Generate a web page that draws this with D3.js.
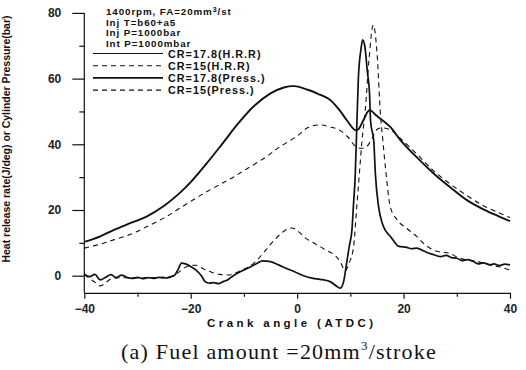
<!DOCTYPE html>
<html><head><meta charset="utf-8">
<script src="https://cdn.jsdelivr.net/npm/d3@7"></script>
<style>body{margin:0;background:#fff}svg{display:block}</style>
</head><body>
<svg id="c" width="526" height="370"></svg>
<script>
// ---- data ----
const xTicks = [-40,-20,0,20,40];
const yTicks = [0,20,40,60,80];
const infoLines = ["1400rpm, FA=20mm", "Inj T=b60+a5", "Inj P=1000bar", "Int P=1000mbar"];
const seriesNames = ["CR=17.8(H.R.R)", "CR=15(H.R.R)", "CR=17.8(Press.)", "CR=15(Press.)"];

const press178X = [-40,-37,-34.5,-31,-28.3,-25,-22,-20,-17,-14,-11,-8,-5,-2.5,-0.5,2,4,6.2,8,9.3,10.9,11.5,12.5,13.6,15,17.5,19.4,22.5,25.6,28.7,31.9,35,38,40];
const press178Y = [10.3,12,13.9,16.2,18,21.3,25.3,28.5,34.2,40.3,46.5,51.8,55.5,57.3,57.7,56.6,55.3,53.5,50.3,47.4,44.3,44.6,47.5,50.4,48.6,45.3,41.3,36,31.2,27,23,20.2,18,16.6];

const press15X = [-40,-37,-34.5,-31,-28.3,-25,-22,-18,-14.5,-12,-9.5,-6,-3.2,0,2.1,4.3,6,8,9.5,11,12,13,14,15,16,17.5,19.4,22.5,25.6,28.7,31.9,35,38,40];
const press15Y = [8.4,9.6,10.9,12.8,14.9,17.6,20.6,24.6,27.8,30,32.5,36,39.3,42.5,45.2,45.9,45.4,44.3,42.3,39.3,38.8,39.2,41.5,44.5,45,44.4,41.8,37,32,28,24.4,21.3,19.1,17.7];

const hrr178X = [-40,-39,-38,-37,-36,-35,-34,-33,-32,-31,-30,-29,-28,-27,-26,-25,-24,-23,-22.5,-21.7,-21,-20.1,-19,-18,-17.3,-16.5,-15.7,-14.8,-13.9,-13,-12,-10.7,-9,-7.5,-6.5,-5,-3.5,-2,-0.5,1.2,3,4.3,6.2,7.5,8.1,8.7,9.3,9.8,10.3,10.6,10.9,11.2,11.5,12,12.3,12.7,13.2,13.6,13.8,14.4,14.7,15.3,16,16.5,17.5,18.2,19,20.6,21.5,22.5,23.7,24.5,25.5,26.9,28,29,30,31,32,33.1,34,35,36.3,37,38,39,40];
const hrr178Y = [0.5,-0.3,0.4,-1.3,-0.5,0.3,-0.6,0.2,-0.5,-0.8,-0.5,-0.9,-0.6,-0.8,-0.5,-0.7,-0.5,0.2,1.5,3.8,3.6,2.9,1.7,0,-1.8,-2.3,-2.1,-2.4,-1.8,-1.2,0,1.2,2.5,3.8,4.5,4.3,3.3,2.2,1.2,0,-0.8,-1.1,-1.8,-3.3,-3.8,-2,3.8,9,14,22,30,45,60,69,71.8,70,62,55.5,47,41,31,21,16,14,12,10.5,9,8.6,8.2,8.4,7.6,7,6.5,5.8,6.2,5.5,5.3,4.6,4.9,4.3,3.6,3.9,3.3,3.6,3.1,3.5,3.3];

const hrr15X = [-40,-39,-38,-37,-36,-35,-33,-30,-27,-24,-22.6,-20.7,-19.1,-17.5,-16,-14.5,-13,-10.7,-8,-6.3,-4.5,-1,1.8,4.9,8.1,9.0,9.8,10.6,11.2,11.7,12.2,12.8,13.5,14.3,15.1,15.6,16.1,16.7,17.5,18.8,20.6,22.5,24,25.6,27,28.7,30,31.9,33.5,35,37,38.5,40];
const hrr15Y = [0.3,-0.8,-2,-3.1,-2.2,-1,-0.6,-0.7,-0.6,-0.3,0.7,2.8,3.2,2,1,0.4,0.2,1.5,4,7,10.5,14.5,11.2,8.3,4.3,1.5,4,8.8,21,31.2,41.3,50.4,65.7,76.3,65.7,50.4,41.3,31.2,21,17,14.4,11.9,9.5,7.8,7.2,6.8,5.7,4.8,4.5,3.8,3,2.5,1.7];

// ---- chart ----
const svg = d3.select("#c");
const x = d3.scaleLinear().domain([-40,40]).range([84.3,510]);
const y = d3.scaleLinear().domain([0,80]).range([275.7,12.9]);
const yBottom = -5.2;
const ink = "#111";
const font = "'Liberation Sans', Arial, sans-serif";

// axes
const xAxisY = y(yBottom);
svg.append("g").attr("transform", `translate(0,${xAxisY})`)
  .call(d3.axisBottom(x).tickValues(xTicks).tickSize(6).tickPadding(6).tickSizeOuter(0));
svg.append("g").attr("transform", `translate(0,${xAxisY})`)
  .call(d3.axisBottom(x).tickValues([-30,-10,10,30]).tickSize(4).tickFormat("").tickSizeOuter(0))
  .select(".domain").remove();
const gy = svg.append("g").attr("transform", `translate(${x(-40)},0)`)
  .call(d3.axisLeft(y).tickValues(yTicks).tickSize(12).tickPadding(11).tickSizeOuter(0));
gy.select(".domain").attr("d", `M0,${y(80)}V${xAxisY}`);
svg.append("g").attr("transform", `translate(${x(-40)},0)`)
  .call(d3.axisLeft(y).tickValues([10,30,50,70]).tickSize(5).tickFormat("").tickSizeOuter(0))
  .select(".domain").remove();
svg.selectAll(".domain, .tick line").attr("stroke", ink).attr("stroke-width", 1.2);
svg.selectAll(".tick text").attr("font-family", font).attr("font-size", 12)
  .attr("font-weight", "bold").attr("fill", "#222");

// axis titles
svg.append("text").attr("x", 290).attr("y", 327).attr("text-anchor", "middle")
  .attr("font-family", font).attr("font-weight", "bold").attr("font-size", 11.5)
  .attr("textLength", 166).attr("lengthAdjust", "spacing").attr("fill", ink)
  .text("Crank angle (ATDC)");
svg.append("text").attr("transform", "translate(10,139) rotate(-90)").attr("text-anchor", "middle")
  .attr("font-family", font).attr("font-weight", "bold").attr("font-size", 10)
  .attr("textLength", 247).attr("lengthAdjust", "spacingAndGlyphs").attr("fill", ink)
  .text("Heat release rate(J/deg) or Cylinder Pressure(bar)");

// caption
const cap = svg.append("text").attr("x", 279).attr("y", 359).attr("text-anchor", "middle")
  .attr("font-family", "'Liberation Serif', 'Times New Roman', serif").attr("font-size", 22)
  .attr("letter-spacing", 1.2).attr("fill", ink);
cap.append("tspan").text("(a) Fuel amount =20mm");
cap.append("tspan").attr("dy", -9).attr("font-size", 13).text("3");
cap.append("tspan").attr("dy", 9).text("/stroke");

// lines
const smooth = d3.line().x(d => x(d[0])).y(d => y(d[1])).curve(d3.curveCatmullRom.alpha(0.5));
const sharp = d3.line().x(d => x(d[0])).y(d => y(d[1])).curve(d3.curveMonotoneX);
const series = [
  {xs: hrr178X, ys: hrr178Y, w: 1.7, dash: null, gen: sharp},
  {xs: hrr15X, ys: hrr15Y, w: 1.1, dash: "5,4", gen: sharp},
  {xs: press178X, ys: press178Y, w: 1.9, dash: null, gen: smooth},
  {xs: press15X, ys: press15Y, w: 1.1, dash: "5,4", gen: smooth}
];
series.forEach(s => {
  svg.append("path").datum(s.xs.map((v,i) => [v, s.ys[i]]))
    .attr("d", s.gen).attr("fill", "none").attr("stroke", ink)
    .attr("stroke-width", s.w).attr("stroke-dasharray", s.dash)
    .attr("stroke-linejoin", "round");
});

// info text
infoLines.forEach((t,i) => {
  const tx = svg.append("text").attr("x", 106).attr("y", 15 + i*10.6)
    .attr("font-family", font).attr("font-weight", "bold").attr("font-size", 9.8)
    .attr("letter-spacing", 0.9).attr("fill", ink);
  tx.append("tspan").text(t);
  if (i === 0) {
    tx.append("tspan").attr("dy", -3).attr("font-size", 7).text("3");
    tx.append("tspan").attr("dy", 3).text("/st");
  }
});

// legend
const legW = [1.1, 1.1, 1.9, 1.1];
const legDash = [null, "5,4", null, "5,4"];
seriesNames.forEach((n,i) => {
  const ly = 53.5 + i*12.2;
  svg.append("line").attr("x1", 93).attr("x2", 163).attr("y1", ly).attr("y2", ly)
    .attr("stroke", ink).attr("stroke-width", legW[i]).attr("stroke-dasharray", legDash[i]);
  svg.append("text").attr("x", 168).attr("y", ly + 4)
    .attr("font-family", font).attr("font-weight", "bold").attr("font-size", 10.8)
    .attr("letter-spacing", 1).attr("fill", ink).text(n);
});
</script>
</body></html>
